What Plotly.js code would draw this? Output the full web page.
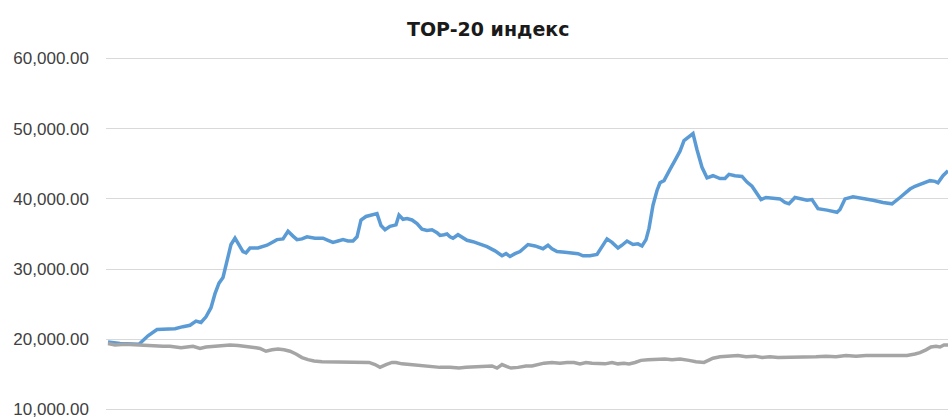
<!DOCTYPE html>
<html>
<head>
<meta charset="utf-8">
<script src="https://cdn.plot.ly/plotly-3.0.1.min.js"></script>
<style>html,body{margin:0;padding:0;background:#fff;}#chart{width:948px;height:418px;}</style>
</head>
<body>
<div id="chart"></div>
<script>
const chartTitle = "TOP-20 индекс";
const yTicks = [10000, 20000, 30000, 40000, 50000, 60000];

const blueDay = [0,12,31,40,49,57,67,75,82,88,
  93,98,103,107,111,115,119,123,127,131,
  135,138,142,150,159,164,169,175,180,185,
  189,194,199,207,215,220,225,230,235,240,
  245,249,253,258,265,269,273,277,282,288,
  291,295,299,304,309,314,319,324,329,332,
  336,339,342,345,350,355,359,365,372,379,
  387,394,398,402,407,412,420,427,435,440,
  444,449,457,465,470,475,482,489,494,499,
  504,510,514,519,525,530,534,538,541,545,
  549,552,556,559,562,567,572,576,580,585,
  589,594,599,605,612,617,621,627,634,639,
  644,649,653,658,665,672,677,681,687,694,
  699,704,707,710,719,724,729,732,737,745,
  755,765,775,784,792,797,802,807,812,817,
  822,827,830,835,840];
const blueVal = [19600,19400,19300,20500,21400,21400,21500,21800,22000,22600,
  22400,23200,24500,26500,28000,28800,31000,33500,34400,33400,
  32500,32300,33000,33000,33400,33800,34200,34300,35400,34700,
  34200,34300,34600,34400,34400,34100,33800,34000,34200,34000,
  34000,34600,37000,37500,37800,37900,36200,35600,36100,36300,
  37700,37100,37200,37000,36500,35700,35500,35600,35200,34800,
  34900,35000,34600,34400,34900,34500,34100,33900,33600,33200,
  32600,31900,32200,31800,32200,32500,33500,33300,32900,33400,
  32900,32500,32400,32300,32200,31900,31900,32100,33200,34300,
  33800,33000,33400,34000,33500,33600,33300,34200,35800,39100,
  41200,42300,42600,43500,44200,45500,46800,48300,48800,49300,
  47000,44500,43000,43300,42900,42900,43500,43300,43200,42400,
  41800,40800,39900,40200,40100,40000,39500,39300,40200,40000,
  39800,39900,39200,38600,38400,38300,38100,38500,40000,40300,
  40100,39800,39500,39300,40200,40800,41400,41800,42100,42300,
  42600,42500,42300,43300,44000];

const grayDay = [0,7,17,27,34,44,55,62,73,79,
  85,92,98,107,114,122,130,140,148,152,
  158,164,170,176,182,188,194,200,206,214,
  222,231,242,252,261,267,272,278,284,288,
  294,302,308,315,324,332,342,351,358,366,
  376,384,389,394,399,403,410,418,424,430,
  436,444,452,459,466,472,478,484,490,497,
  504,510,516,521,527,533,540,548,557,564,
  572,581,588,596,601,605,612,620,630,638,
  647,654,662,670,678,687,697,708,718,728,
  738,748,758,768,778,789,799,807,812,818,
  823,828,832,836,840];
const grayVal = [19400,19200,19300,19200,19200,19100,19000,19000,18800,18900,
  19000,18700,18900,19000,19100,19200,19100,19000,18800,18700,
  18300,18500,18600,18500,18300,17900,17400,17100,16900,16800,
  16800,16800,16800,16700,16700,16400,16000,16400,16700,16700,
  16500,16400,16300,16200,16100,16000,16000,15900,16000,16100,
  16100,16200,15900,16400,16100,15900,16000,16200,16200,16400,
  16600,16700,16600,16700,16700,16500,16700,16600,16600,16500,
  16700,16500,16600,16500,16700,17000,17100,17200,17200,17100,
  17200,17000,16800,16700,17100,17300,17500,17600,17700,17500,
  17600,17400,17500,17400,17400,17500,17400,17500,17600,17500,
  17700,17600,17700,17700,17700,17700,17700,17900,18100,18500,
  18900,19000,18900,19200,19200];

const traces = [
  {x: blueDay, y: blueVal, type: 'scatter', mode: 'lines',
   line: {color: '#5B9BD5', width: 3.5}, hoverinfo: 'skip'},
  {x: grayDay, y: grayVal, type: 'scatter', mode: 'lines',
   line: {color: '#A5A5A5', width: 3.5}, hoverinfo: 'skip'}
];

const layout = {
  width: 948, height: 418,
  margin: {l: 106, r: 0, t: 55, b: 5, pad: 0},
  paper_bgcolor: '#ffffff', plot_bgcolor: '#ffffff',
  showlegend: false,
  title: {text: chartTitle, xref: 'container', yref: 'container',
    x: 0.515, xanchor: 'center', y: 0.93, yanchor: 'middle',
    font: {family: 'DejaVu Sans', size: 19, color: '#1a1a1a', weight: 'bold'}},
  xaxis: {range: [-2, 840], visible: false, showgrid: false, zeroline: false},
  yaxis: {range: [9500, 60500], tickvals: yTicks, tickformat: ',.2f',
    showgrid: true, gridcolor: '#D9D9D9', gridwidth: 1,
    zeroline: false, showline: false, ticks: '',
    ticklabelstandoff: 16, ticklabeloverflow: 'allow', automargin: false,
    tickfont: {family: 'Liberation Sans', size: 17, color: '#404040'}}
};

Plotly.newPlot('chart', traces, layout, {staticPlot: true, displayModeBar: false});
</script>
</body>
</html>
